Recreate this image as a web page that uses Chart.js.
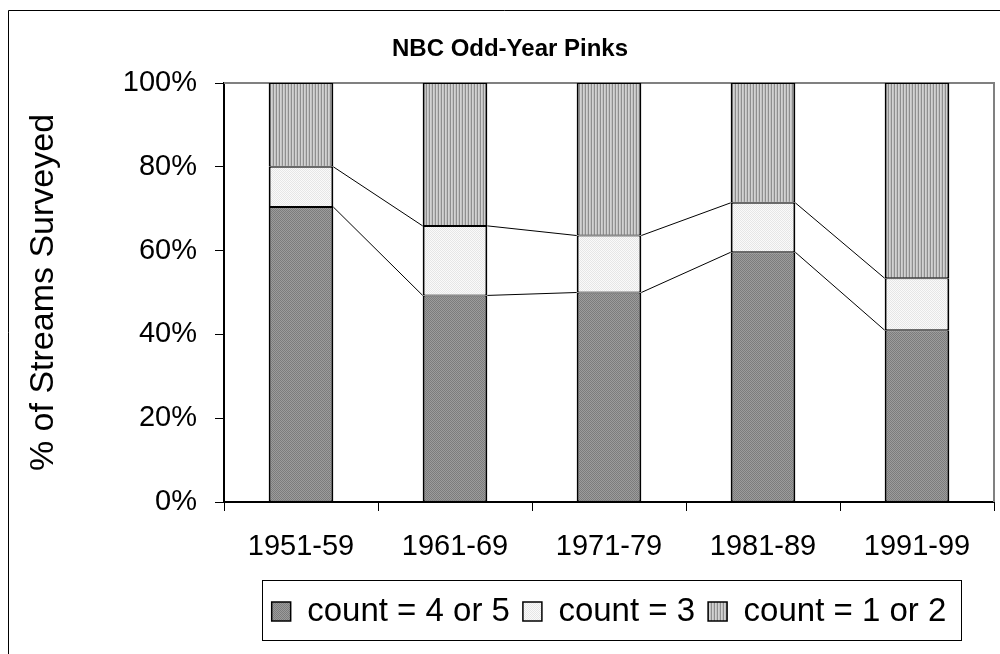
<!DOCTYPE html>
<html>
<head>
<meta charset="utf-8">
<script src="https://cdn.jsdelivr.net/npm/chart.js@4.4.1/dist/chart.umd.min.js"></script>
<style>
  html, body { margin: 0; padding: 0; background: #ffffff; }
  #wrap { position: relative; width: 1000px; height: 654px; }
</style>
</head>
<body>
<div id="wrap"><canvas id="c"></canvas></div>
<script>
// ---- data ----
const categories = ['1951-59', '1961-69', '1971-79', '1981-89', '1991-99'];
const count45 = [70.4, 49.3, 50.0, 59.6, 41.0];
const count3  = [9.6, 16.6, 13.6, 11.8, 12.4];
const count12 = [20.0, 34.1, 36.4, 28.6, 46.6];
const seriesNames = ['count = 4 or 5', 'count = 3', 'count = 1 or 2'];
const yTicks = [0, 20, 40, 60, 80, 100];
const chartTitle = 'NBC Odd-Year Pinks';
const yTitle = '% of Streams Surveyed';

const FONT = '"Liberation Sans", Arial, Helvetica, sans-serif';

function makePattern(w, h, pixels) {
  const c = document.createElement('canvas');
  c.width = w; c.height = h;
  const x = c.getContext('2d');
  for (let j = 0; j < h; j++) {
    for (let i = 0; i < w; i++) {
      x.fillStyle = pixels[j][i];
      x.fillRect(i, j, 1, 1);
    }
  }
  return x.createPattern(c, 'repeat');
}
const darkPat = makePattern(2, 2, [['#7c7c7c', '#9c9c9c'], ['#9c9c9c', '#7c7c7c']]);
const lightPat = makePattern(2, 2, [['#e6e6e6', '#fafafa'], ['#fafafa', '#e6e6e6']]);
const stripePat = makePattern(3, 1, [['#8e8e8e', '#d2d2d2', '#c2c2c2']]);

const decorPlugin = {
  id: 'decor',
  beforeDraw(chart) {
    const c = chart.ctx;
    c.save();
    c.fillStyle = '#ffffff';
    c.fillRect(0, 0, chart.width, chart.height);
    c.strokeStyle = '#000000';
    c.lineWidth = 1;
    c.beginPath();
    c.moveTo(8.5, chart.height + 2);
    c.lineTo(8.5, 10.5);
    c.lineTo(chart.width + 2, 10.5);
    c.stroke();
    c.restore();
  },
  beforeDatasetsDraw(chart) {
    const a = chart.chartArea;
    const c = chart.ctx;
    c.save();
    c.strokeStyle = '#808080';
    c.lineWidth = 2;
    c.beginPath();
    c.moveTo(a.left, a.top);
    c.lineTo(a.right, a.top);
    c.lineTo(a.right, a.bottom);
    c.stroke();
    c.restore();
  },
  afterDatasetsDraw(chart) {
    // Excel-style series lines between stacked segments
    const c = chart.ctx;
    c.save();
    c.strokeStyle = '#000000';
    c.lineWidth = 1;
    for (let d = 0; d < 2; d++) {
      const meta = chart.getDatasetMeta(d);
      for (let i = 0; i < meta.data.length - 1; i++) {
        const e1 = meta.data[i].getProps(['x', 'y', 'width'], true);
        const e2 = meta.data[i + 1].getProps(['x', 'y', 'width'], true);
        c.beginPath();
        c.moveTo(e1.x + e1.width / 2, e1.y);
        c.lineTo(e2.x - e2.width / 2, e2.y);
        c.stroke();
      }
    }
    c.restore();
  },
  afterDraw(chart) {
    const lg = chart.legend;
    if (!lg || !lg.legendHitBoxes || !lg.legendHitBoxes.length) return;
    const hb = lg.legendHitBoxes;
    const left = hb[0].left - 10;
    const last = hb[hb.length - 1];
    const right = last.left + last.width + 14;
    const c = chart.ctx;
    c.save();
    c.strokeStyle = '#000000';
    c.lineWidth = 1;
    c.strokeRect(Math.round(left) + 0.5, Math.round(lg.top - 2) + 0.5,
                 Math.round(right - left), Math.round(lg.bottom - lg.top + 4));
    c.restore();
  }
};

const barBorder = { top: 1, bottom: 1, left: 2, right: 2 };

new Chart(document.getElementById('c'), {
  type: 'bar',
  data: {
    labels: categories,
    datasets: [
      { label: seriesNames[0], data: count45, backgroundColor: darkPat, borderColor: '#000', borderWidth: barBorder },
      { label: seriesNames[1], data: count3, backgroundColor: lightPat, borderColor: '#000', borderWidth: barBorder },
      { label: seriesNames[2], data: count12, backgroundColor: stripePat, borderColor: '#000', borderWidth: barBorder }
    ]
  },
  options: {
    responsive: true,
    maintainAspectRatio: false,
    animation: false,
    devicePixelRatio: 1,
    layout: { padding: { left: 26, right: 6, top: 0, bottom: 16 } },
    datasets: { bar: { categoryPercentage: 1.0, barPercentage: 0.42, borderSkipped: false } },
    plugins: {
      title: {
        display: true,
        text: chartTitle,
        color: '#000',
        font: { family: FONT, size: 24, weight: 'bold' },
        padding: { top: 35, bottom: 19.2 }
      },
      legend: {
        display: true,
        position: 'bottom',
        fullSize: false,
        labels: {
          color: '#000',
          font: { family: FONT, size: 33 },
          boxWidth: 19,
          boxHeight: 19,
          padding: 13
        }
      },
      tooltip: { enabled: false }
    },
    scales: {
      x: {
        stacked: true,
        afterFit(scale) { scale.height = 80; },
        grid: { display: true, drawOnChartArea: false, drawTicks: true, tickLength: 9, color: '#000', offset: true },
        border: { display: true, color: '#000', width: 2 },
        ticks: { color: '#000', font: { family: FONT, size: 29 }, padding: 19, maxRotation: 0 }
      },
      y: {
        stacked: true,
        min: 0,
        max: 100,
        afterFit(scale) { scale.width = 198; },
        afterBuildTicks(scale) { scale.ticks = yTicks.map(v => ({ value: v })); },
        grid: { display: true, drawOnChartArea: false, drawTicks: true, tickLength: 9, color: '#000' },
        border: { display: true, color: '#000', width: 2 },
        ticks: { color: '#000', font: { family: FONT, size: 29 }, padding: 18, callback: v => v + '%' },
        title: {
          display: true,
          text: yTitle,
          color: '#000',
          font: { family: FONT, size: 34, lineHeight: 1.06 },
          padding: { top: 0, bottom: 0 }
        }
      }
    }
  },
  plugins: [decorPlugin]
});
</script>
</body>
</html>
